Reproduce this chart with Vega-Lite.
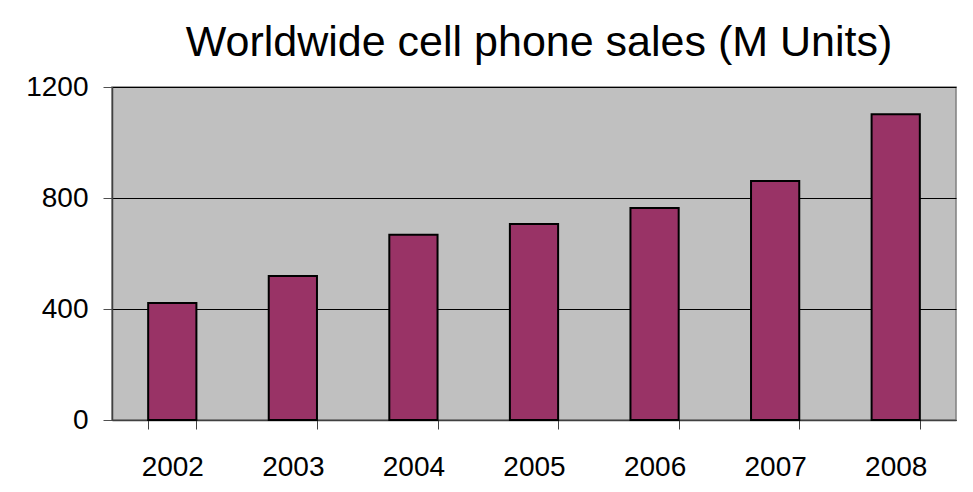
{
  "$schema": "https://vega.github.io/schema/vega-lite/v6.json",
  "width": 844,
  "height": 333,
  "autosize": "none",
  "padding": {"left": 112, "top": 87, "right": 17, "bottom": 72},
  "background": "white",
  "title": {
    "text": "Worldwide cell phone sales (M Units)",
    "fontSize": 43,
    "font": "Liberation Sans",
    "fontWeight": "normal",
    "color": "black",
    "anchor": "middle",
    "frame": "group",
    "baseline": "alphabetic",
    "offset": 28,
    "dy": 54,
    "dx": 5
  },
  "data": {
    "values": [
      {"year": "2002", "sales": 422},
      {"year": "2003", "sales": 519},
      {"year": "2004", "sales": 668},
      {"year": "2005", "sales": 706},
      {"year": "2006", "sales": 764},
      {"year": "2007", "sales": 861},
      {"year": "2008", "sales": 1102}
    ]
  },
  "mark": {"type": "bar", "color": "#993366", "stroke": "black", "strokeWidth": 2},
  "encoding": {
    "x": {
      "field": "year",
      "type": "ordinal",
      "scale": {"paddingInner": 0.6, "paddingOuter": 0.3},
      "axis": {
        "title": null,
        "labelAngle": 0,
        "tickBand": "extent",
        "tickSize": 9,
        "labelPadding": 24,
        "domainColor": "#404040",
        "tickColor": "#404040",
        "domainWidth": 1.5
      }
    },
    "y": {
      "field": "sales",
      "type": "quantitative",
      "scale": {"domain": [0, 1200], "nice": false},
      "axis": {
        "title": null,
        "values": [0, 400, 800, 1200],
        "format": "d",
        "grid": true,
        "gridColor": "black",
        "gridWidth": 1,
        "tickSize": 9,
        "labelPadding": 15,
        "domainColor": "#404040",
        "tickColor": "#505050",
        "domainWidth": 1.5
      }
    }
  },
  "config": {
    "view": {"fill": "#c0c0c0", "stroke": "#808080", "strokeWidth": 1.5},
    "axis": {
      "labelFont": "Liberation Sans",
      "labelFontSize": 28,
      "labelColor": "black",
      "ticks": true
    }
  }
}
